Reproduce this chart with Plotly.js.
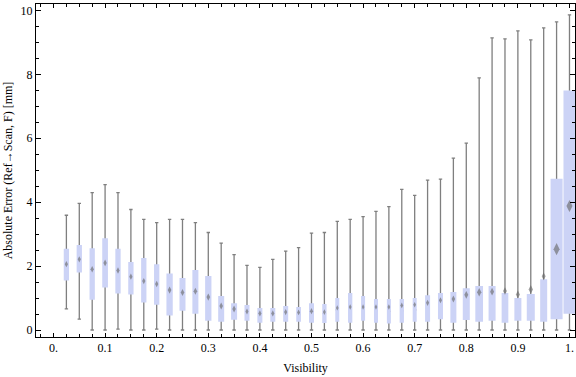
<!DOCTYPE html>
<html><head><meta charset="utf-8">
<script src="https://cdn.plot.ly/plotly-3.0.1.min.js"></script>
<style>html,body{margin:0;padding:0;background:#fff;}#chart{width:576px;height:377px;}</style>
</head><body><div id="chart"></div>
<script>
// ---- data ----
const visibility = [0.025,0.05,0.075,0.1,0.125,0.15,0.175,0.2,0.225,0.25,
  0.275,0.3,0.325,0.35,0.375,0.4,0.425,0.45,0.475,0.5,
  0.525,0.55,0.575,0.6,0.625,0.65,0.675,0.7,0.725,0.75,
  0.775,0.8,0.825,0.85,0.875,0.9,0.925,0.95,0.975,1.0];
const minErr = [0.66,0.34,0,0,0.03,0,0,0.03,0,0,
  0,0,0,0,0,0,0,0,0,0,
  0,0,0,0,0,0,0,0,0,0,
  0,0,0,0,0,0,0,0,0,0];
const q1Err = [1.55,1.80,0.95,1.33,1.14,1.11,0.86,0.79,0.45,0.60,
  0.51,0.29,0.26,0.32,0.29,0.23,0.26,0.26,0.26,0.23,
  0.22,0.26,0.23,0.29,0.23,0.20,0.23,0.26,0.26,0.34,
  0.23,0.31,0.26,0.29,0.23,0.29,0.29,0.26,0.34,0.51];
const meanErr = [2.06,2.21,1.90,2.10,1.86,1.67,1.53,1.44,1.25,1.17,
  1.21,1.03,0.75,0.66,0.58,0.52,0.52,0.56,0.55,0.59,
  0.56,0.69,0.72,0.72,0.72,0.72,0.77,0.79,0.85,0.93,
  0.97,1.10,1.18,1.20,1.22,1.11,1.27,1.68,2.53,3.88];
const q3Err = [2.54,2.66,2.56,2.87,2.54,2.13,2.25,2.06,1.77,1.63,
  1.88,1.69,1.06,0.84,0.78,0.69,0.69,0.75,0.72,0.84,
  0.81,1.00,1.16,1.06,0.97,0.97,0.97,1.00,1.09,1.16,
  1.19,1.31,1.38,1.38,1.16,1.00,1.13,1.59,4.73,7.49];
const maxErr = [3.59,3.96,4.30,4.55,4.30,3.77,3.46,3.36,3.46,3.46,
  3.36,3.05,2.72,2.36,2.02,1.96,2.21,2.47,2.58,3.03,
  3.05,3.40,3.46,3.55,3.71,3.86,4.40,4.21,4.69,4.72,
  5.38,5.85,7.89,9.14,9.11,9.36,9.08,9.45,9.64,9.86];
// relative box widths (as drawn in the reference)
const boxWidthPx = [5.3,5.3,5.3,5.7,5.3,5.3,5.3,5.3,6.3,6,
  6,6.3,6,6,5,5,5,5,4.7,5,
  4.3,4,4.3,4,4,4,4.3,4,5,5,
  6,7,7.7,7,6.7,7,8,7,12,12];
const xTickVals = [0,0.1,0.2,0.3,0.4,0.5,0.6,0.7,0.8,0.9,1.0];
const xTickText = ['0.','0.1','0.2','0.3','0.4','0.5','0.6','0.7','0.8','0.9','1.'];
const yTickVals = [0,2,4,6,8,10];
const yTickText = ['0','2','4','6','8','10'];

// ---- chart ----
const PX = 1/516;
const FONT = 'Liberation Serif, Times New Roman, serif';
const boxFill = 'rgb(204,211,246)';
const traces = [];
const mid = q1Err.map((v,i)=>(v+q3Err[i])/2);
traces.push({
  type:'box', x: visibility, q1: mid, median: mid, q3: mid,
  lowerfence: minErr, upperfence: maxErr,
  width: 3.4*PX, whiskerwidth: 1, boxpoints: false,
  fillcolor: 'rgba(0,0,0,0)', line:{color:'#7f7f7f', width:1.3},
  hoverinfo:'skip', showlegend:false
});
visibility.forEach((v,i)=>{
  traces.push({
    type:'box', x:[v], q1:[q1Err[i]], median:[mid[i]], q3:[q3Err[i]],
    lowerfence:[q1Err[i]], upperfence:[q3Err[i]],
    width: boxWidthPx[i]*PX, whiskerwidth: 0, boxpoints:false,
    fillcolor: boxFill, line:{color: boxFill, width:0},
    hoverinfo:'skip', showlegend:false
  });
});
traces.push({
  type:'scatter', mode:'markers', x: visibility, y: meanErr,
  marker:{symbol:'diamond-tall', color:'rgba(105,105,105,0.9)',
    size: boxWidthPx.map(w=>0.6*w+1.4), line:{width:0}},
  hoverinfo:'skip', showlegend:false
});

const layout = {
  width:576, height:377,
  margin:{l:36, r:1, t:4, b:40},
  paper_bgcolor:'#fff', plot_bgcolor:'#fff',
  boxmode:'overlay',
  showlegend:false,
  font:{family:FONT, size:12, color:'#000'},
  xaxis:{
    range:[-0.0339, 1.0107], tickvals:xTickVals, ticktext:xTickText,
    ticks:'inside', ticklen:4, tickwidth:1, tickcolor:'#000',
    minor:{tick0:0, dtick:0.025, ticks:'inside', ticklen:3, tickwidth:1, tickcolor:'#000', showgrid:false},
    showline:true, linecolor:'#000', linewidth:1, mirror:'ticks',
    showgrid:false, zeroline:false,
    tickfont:{family:FONT, size:12, color:'#000'},
    title:{text:'Visibility', font:{family:FONT, size:12, color:'#000'}, standoff:9}
  },
  yaxis:{
    range:[-0.219, 10.2], tickvals:yTickVals, ticktext:yTickText,
    ticks:'inside', ticklen:5, tickwidth:1, tickcolor:'#000',
    minor:{tick0:0, dtick:0.5, ticks:'inside', ticklen:3, tickwidth:1, tickcolor:'#000', showgrid:false},
    showline:true, linecolor:'#000', linewidth:1, mirror:'ticks',
    showgrid:false, zeroline:false,
    tickfont:{family:FONT, size:12, color:'#000'},
    title:{text:'Absolute Error (Ref\u2192Scan, F) [mm]', font:{family:FONT, size:12, color:'#000'}, standoff:5}
  }
};
Plotly.newPlot('chart', traces, layout, {staticPlot:true, displayModeBar:false});
</script>
</body></html>
